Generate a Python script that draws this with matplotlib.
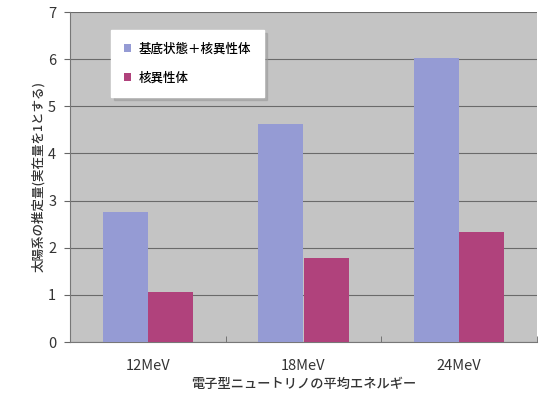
import numpy as np
from matplotlib import pyplot as plt

plt.rcParams['font.family'] = ['Noto Sans CJK JP', 'DejaVu Sans']

categories = ["12MeV", "18MeV", "24MeV"]
ground_plus_isomer = [2.75, 4.63, 6.03]
isomer = [1.06, 1.78, 2.33]
series_names = ["基底状態＋核異性体", "核異性体"]

fig = plt.figure(figsize=(5.46, 3.93), dpi=100)
ax = fig.add_axes([70/546, 1 - 342/393, 467/546, 330/393])
ax.set_facecolor('#c4c4c4')

x = np.arange(len(categories))
w = 0.29
ax.bar(x - w/2, ground_plus_isomer, w, color='#959bd4', label=series_names[0], zorder=3)
ax.bar(x + w/2, isomer, w, color='#b0427c', label=series_names[1], zorder=3)

ax.set_xlim(-0.5, 2.5)
ax.set_ylim(0, 7)
ax.set_yticks(range(0, 8))
ax.grid(axis='y', color='#6a6a6a', linewidth=0.8, zorder=1)
ax.set_xticks(x)
ax.set_xticklabels(categories, fontsize=10.5, color='#333333')
ax.set_xticks([0.5, 1.5, 2.5], minor=True)
ax.tick_params(axis='x', which='major', length=0, pad=12)
ax.tick_params(axis='x', which='minor', length=4, direction='in', color='#666666')
ax.tick_params(axis='y', length=4, color='#666666', labelsize=10.5, labelcolor='#333333', pad=6)
for s in ['top', 'right']:
    ax.spines[s].set_visible(False)
for s in ['left', 'bottom']:
    ax.spines[s].set_color('#777777')

ax.set_ylabel("太陽系の推定量(実在量を1とする)", fontsize=9, color='#333333',
              fontweight='medium', labelpad=2)
ax.set_xlabel("電子型ニュートリノの平均エネルギー", fontsize=9.5, color='#333333',
              fontweight='medium', labelpad=3)

leg = ax.legend(loc='upper left', bbox_to_anchor=(0.075, 0.965),
                prop={'size': 9, 'weight': 'medium'},
                frameon=True, fancybox=False, shadow={'color': '#999999'}, handlelength=0.6,
                handleheight=0.6, labelspacing=1.3, borderpad=1.0, handletextpad=0.6)
leg.get_frame().set_facecolor('white')
leg.get_frame().set_edgecolor('white')

plt.savefig('out.png', dpi=100)
